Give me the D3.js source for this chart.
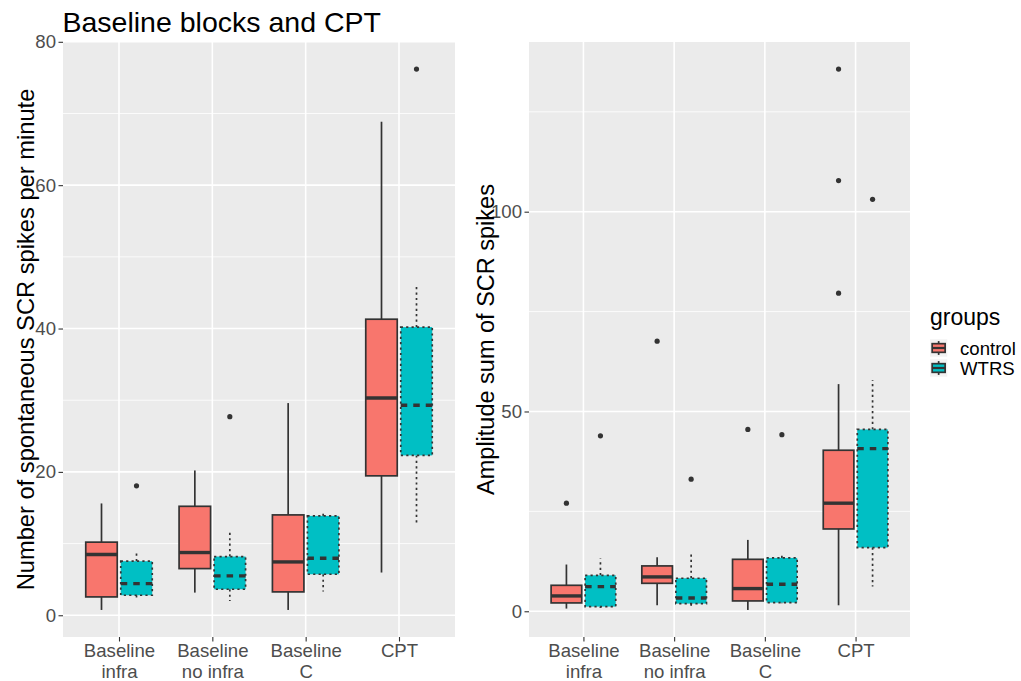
<!DOCTYPE html>
<html>
<head>
<meta charset="utf-8">
<script src="https://cdn.jsdelivr.net/npm/d3@7"></script>
<style>
  body { margin: 0; background: #fff; }
  svg { display: block; font-family: "Liberation Sans", Arial, sans-serif; }
</style>
</head>
<body>
<svg id="chart" width="1021" height="681"></svg>
<script>
// ---- data ----
const categories = ["Baseline infra", "Baseline no infra", "Baseline C", "CPT"];
const categoryLines = [["Baseline", "infra"], ["Baseline", "no infra"], ["Baseline", "C"], ["CPT"]];
const groups = ["control", "WTRS"];
const groupColors = ["#F8766D", "#00BFC4"];

// five-number summaries per category: [lower whisker, Q1, median, Q3, upper whisker]
const spikesControl = [[0.74, 2.56, 8.47, 10.2, 15.6], [3.16, 6.51, 8.75, 15.2, 20.2], [0.74, 3.26, 7.44, 14.0, 29.6], [5.96, 19.45, 30.3, 41.3, 68.85]];
const spikesWTRS = [[2.23, 2.79, 4.42, 7.54, 8.98], [2.0, 3.63, 5.49, 8.19, 11.5], [3.3, 5.72, 7.96, 13.86, 14.3], [12.6, 22.3, 29.3, 40.2, 45.9]];
const spikesControlOutliers = [[], [], [], []];
const spikesWTRSOutliers = [[18.05], [27.7], [], [76.2]];
const spikesTicks = [0, 20, 40, 60, 80];
const spikesMinorTicks = [10, 30, 50, 70];

const amplitudeControl = [[0.67, 2.09, 3.84, 6.5, 11.7], [1.5, 7.0, 8.6, 11.35, 13.5], [0.33, 2.59, 5.68, 13.0, 17.86], [1.5, 20.6, 27.05, 40.3, 56.85]];
const amplitudeWTRS = [[0.84, 1.17, 6.18, 9.0, 13.2], [1.17, 1.92, 3.34, 8.26, 14.95], [2.0, 2.17, 6.76, 13.35, 14.1], [6.2, 15.95, 40.7, 45.5, 57.9]];
const amplitudeControlOutliers = [[27.05], [67.6], [45.5], [79.6, 107.8, 135.7]];
const amplitudeWTRSOutliers = [[43.9], [33.06], [44.2], [103.1]];
const amplitudeTicks = [0, 50, 100];
const amplitudeMinorTicks = [25, 75, 125];

// ---- style ----
const INK = "#333333";
const PANEL_BG = "#EBEBEB";
const TICK_TEXT = "#4D4D4D";
const LINE_W = 1.7;
const OUTLINE_DASH = [null, "2.2,3.2"];
const MEDIAN_DASH = [null, "6.5,6"];

const svg = d3.select("#chart");

function drawPanel(cfg) {
  const { left, right, top, bottom } = cfg;
  const g = svg.append("g");

  // y scale with 5% expansion of the data range
  const all = [];
  [cfg.control, cfg.wtrs].forEach(s => s.forEach(a => all.push(...a)));
  [cfg.controlOut, cfg.wtrsOut].forEach(s => s.forEach(a => all.push(...a)));
  const lo = d3.min(all), hi = d3.max(all), pad = (hi - lo) * 0.05;
  const y = d3.scaleLinear().domain([lo - pad, hi + pad]).range([bottom, top]);

  const x = d3.scalePoint().domain(categories).range([left, right]).padding(0.6);
  const step = x.step();
  const boxW = step * 0.3375;
  const offsets = [-step * 0.1875, step * 0.1875];

  // panel background and grid
  g.append("rect").attr("x", left).attr("y", top)
    .attr("width", right - left).attr("height", bottom - top).attr("fill", PANEL_BG);
  g.selectAll(".minor").data(cfg.minorTicks).join("line")
    .attr("x1", left).attr("x2", right)
    .attr("y1", d => y(d)).attr("y2", d => y(d))
    .attr("stroke", "#fff").attr("stroke-width", 0.8);
  g.selectAll(".majorY").data(cfg.ticks).join("line")
    .attr("x1", left).attr("x2", right)
    .attr("y1", d => y(d)).attr("y2", d => y(d))
    .attr("stroke", "#fff").attr("stroke-width", 1.6);
  g.selectAll(".majorX").data(categories).join("line")
    .attr("x1", d => x(d)).attr("x2", d => x(d))
    .attr("y1", top).attr("y2", bottom)
    .attr("stroke", "#fff").attr("stroke-width", 1.6);

  // boxes
  const series = [
    { stats: cfg.control, out: cfg.controlOut, gi: 0 },
    { stats: cfg.wtrs, out: cfg.wtrsOut, gi: 1 }
  ];
  series.forEach(s => {
    s.stats.forEach((st, ci) => {
      const cx = x(categories[ci]) + offsets[s.gi];
      const [wl, q1, med, q3, wh] = st;
      const bg = g.append("g");
      const dash = OUTLINE_DASH[s.gi];
      // whiskers
      [[q3, wh], [q1, wl]].forEach(([a, b]) => {
        bg.append("line").attr("x1", cx).attr("x2", cx)
          .attr("y1", y(a)).attr("y2", y(b))
          .attr("stroke", INK).attr("stroke-width", LINE_W)
          .attr("stroke-dasharray", dash);
      });
      // box
      bg.append("rect").attr("x", cx - boxW / 2).attr("y", y(q3))
        .attr("width", boxW).attr("height", y(q1) - y(q3))
        .attr("fill", groupColors[s.gi]).attr("stroke", INK)
        .attr("stroke-width", LINE_W).attr("stroke-dasharray", dash);
      // median
      bg.append("line").attr("x1", cx - boxW / 2).attr("x2", cx + boxW / 2)
        .attr("y1", y(med)).attr("y2", y(med))
        .attr("stroke", INK).attr("stroke-width", LINE_W * 2)
        .attr("stroke-dasharray", MEDIAN_DASH[s.gi]);
      // outliers
      bg.selectAll("circle").data(s.out[ci]).join("circle")
        .attr("cx", cx).attr("cy", d => y(d)).attr("r", 2.6).attr("fill", INK);
    });
  });

  // y axis
  const ya = g.append("g").attr("transform", `translate(${left},0)`)
    .call(d3.axisLeft(y).tickValues(cfg.ticks).tickSize(4.5).tickPadding(2.5).tickFormat(d3.format("d")));
  ya.select(".domain").remove();
  ya.selectAll(".tick line").attr("stroke", INK).attr("stroke-width", 1.1);
  ya.selectAll(".tick text").attr("fill", TICK_TEXT).attr("font-size", 18.6)
    .attr("font-family", "'Liberation Sans', Arial, sans-serif");

  // x axis
  const xa = g.append("g").attr("transform", `translate(0,${bottom})`)
    .call(d3.axisBottom(x).tickSize(4.5).tickFormat(""));
  xa.select(".domain").remove();
  xa.selectAll(".tick line").attr("stroke", INK).attr("stroke-width", 1.1);
  xa.selectAll(".tick").each(function (d, i) {
    const t = d3.select(this).append("text")
      .attr("fill", TICK_TEXT).attr("font-size", 18.6).attr("text-anchor", "middle")
      .attr("font-family", "'Liberation Sans', Arial, sans-serif");
    categoryLines[i].forEach((ln, k) => {
      t.append("tspan").attr("x", 0).attr("y", 20 + k * 20.5).text(ln);
    });
  });

  // y title
  svg.append("text")
    .attr("transform", `translate(${cfg.titleX},${(top + bottom) / 2}) rotate(-90)`)
    .attr("text-anchor", "middle").attr("font-size", cfg.titleSize).attr("fill", "#000")
    .text(cfg.yTitle);
}

drawPanel({
  left: 63, right: 455, top: 42, bottom: 637,
  control: spikesControl, wtrs: spikesWTRS,
  controlOut: spikesControlOutliers, wtrsOut: spikesWTRSOutliers,
  ticks: spikesTicks, minorTicks: spikesMinorTicks,
  yTitle: "Number of spontaneous SCR spikes per minute", titleX: 34, titleSize: 23.7
});

drawPanel({
  left: 529, right: 910, top: 42, bottom: 637,
  control: amplitudeControl, wtrs: amplitudeWTRS,
  controlOut: amplitudeControlOutliers, wtrsOut: amplitudeWTRSOutliers,
  ticks: amplitudeTicks, minorTicks: amplitudeMinorTicks,
  yTitle: "Amplitude sum of SCR spikes", titleX: 494, titleSize: 23.5
});

// plot title
svg.append("text").attr("x", 62.5).attr("y", 31.5)
  .attr("font-size", 28.5).attr("fill", "#000").text("Baseline blocks and CPT");

// legend
const lg = svg.append("g").attr("transform", "translate(930,0)");
lg.append("text").attr("x", 0).attr("y", 325).attr("font-size", 23).attr("fill", "#000").text("groups");
const KEY = 17.3;
const KEY_STEP = 20;
groups.forEach((name, i) => {
  const ky = 338 + i * KEY_STEP;
  const k = lg.append("g").attr("transform", `translate(0,${ky + (KEY_STEP - KEY) / 2})`);
  k.append("rect").attr("width", KEY).attr("height", KEY).attr("fill", "#F2F2F2");
  [[0.1, 0.25], [0.75, 0.9]].forEach(([a, b]) => {
    k.append("line").attr("x1", KEY / 2).attr("x2", KEY / 2)
      .attr("y1", a * KEY).attr("y2", b * KEY)
      .attr("stroke", INK).attr("stroke-width", LINE_W);
  });
  k.append("rect").attr("x", 0.125 * KEY).attr("y", 0.25 * KEY)
    .attr("width", 0.75 * KEY).attr("height", 0.5 * KEY)
    .attr("fill", groupColors[i]).attr("stroke", INK).attr("stroke-width", LINE_W);
  k.append("line").attr("x1", 0.125 * KEY).attr("x2", 0.875 * KEY)
    .attr("y1", KEY / 2).attr("y2", KEY / 2)
    .attr("stroke", INK).attr("stroke-width", LINE_W * 1.3);
  lg.append("text").attr("x", 30).attr("y", ky + KEY_STEP / 2 + 6.5)
    .attr("font-size", 18.6).attr("fill", "#000")
    .text(name);
});
</script>
</body>
</html>
